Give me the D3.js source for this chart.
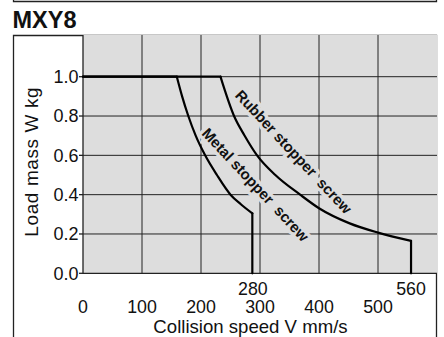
<!DOCTYPE html>
<html lang="en">
<head>
  <meta charset="utf-8">
  <title>MXY8</title>
  <style>
    body { margin: 0; background: #fff; }
    svg text { font-family: "Liberation Sans", Arial, Helvetica, sans-serif; fill: #111; }
  </style>
</head>
<body>
  <div id="chart-area"></div>

  <script src="https://cdnjs.cloudflare.com/ajax/libs/d3/7.8.5/d3.min.js"></script>
  <script>
    // axis ticks
    var speedTicks = [0, 100, 200, 300, 400, 500];
    var massTicks = [0, 0.2, 0.4, 0.6, 0.8, 1.0];
    var limitSpeeds = [288, 556];
    var limitLabels = ["280", "560"];

    // metal stopper screw
    var metalSpeed = [159, 168, 178.5, 191, 207, 227, 250, 268, 287];
    var metalMass  = [1.0, 0.9, 0.8, 0.7, 0.6, 0.5, 0.4, 0.35, 0.305];

    // rubber stopper screw
    var rubberSpeed = [233, 256, 274, 295, 326, 368, 400, 452, 500, 556];
    var rubberMass  = [1.0, 0.8, 0.7, 0.6, 0.5, 0.4, 0.331, 0.254, 0.207, 0.165];

    // curve labels: text and where its baseline starts (speed, mass)
    var labelTexts = ["Rubber stopper  screw", "Metal stopper  screw"];
    var labelSpeed = [256.4, 200];
    var labelMass  = [0.902, 0.709];

    var svgWidth = 444;
    var svgHeight = 337;

    var plot = { left: 83, right: 437, top: 35, bottom: 273.3 };

    var svg = d3.select("#chart-area")
                .append("svg")
                .attr("width", svgWidth)
                .attr("height", svgHeight);

    var x = d3.scaleLinear()
              .domain([0, 600])
              .range([plot.left, plot.right]);

    var y = d3.scaleLinear()
              .domain([0, 1])
              .range([plot.bottom, 76.7]);

    // bottom edge of the box above
    svg.append("path")
       .attr("d", "M13.5,0 V1.5 H436.5 V0")
       .attr("fill", "none")
       .attr("stroke", "#222")
       .attr("stroke-width", 1.3);

    // title
    svg.append("text")
       .attr("x", 12.5)
       .attr("y", 28.4)
       .attr("font-size", 23.5)
       .attr("font-weight", "bold")
       .text("MXY8");

    // frame
    svg.append("path")
       .attr("d", "M13.5," + svgHeight + " V35.5 H436.5 V" + svgHeight)
       .attr("fill", "none")
       .attr("stroke", "#222")
       .attr("stroke-width", 1.3);

    // plot background
    svg.append("rect")
       .attr("x", plot.left)
       .attr("y", plot.top)
       .attr("width", plot.right - plot.left)
       .attr("height", plot.bottom - plot.top)
       .attr("fill", "#dddddd");

    // grid
    var grid = svg.append("g")
                  .attr("stroke", "#222")
                  .attr("stroke-width", 1);

    grid.selectAll(".vgrid")
        .data(speedTicks.slice(1))
        .enter()
        .append("line")
        .attr("x1", (d) => x(d))
        .attr("x2", (d) => x(d))
        .attr("y1", plot.top)
        .attr("y2", plot.bottom);

    grid.selectAll(".hgrid")
        .data(massTicks.slice(1))
        .enter()
        .append("line")
        .attr("x1", plot.left)
        .attr("x2", plot.right)
        .attr("y1", (d) => y(d))
        .attr("y2", (d) => y(d));

    // axes lines
    svg.append("path")
       .attr("d", "M" + plot.left + "," + plot.top + " V" + plot.bottom + " H" + plot.right)
       .attr("fill", "none")
       .attr("stroke", "#222")
       .attr("stroke-width", 1.3);

    // y ticks and labels
    svg.selectAll(".ytick")
       .data(massTicks)
       .enter()
       .append("line")
       .attr("x1", plot.left - 4)
       .attr("x2", plot.left)
       .attr("y1", (d) => y(d))
       .attr("y2", (d) => y(d))
       .attr("stroke", "#222")
       .attr("stroke-width", 1.3);

    svg.selectAll(".ylabel")
       .data(massTicks)
       .enter()
       .append("text")
       .attr("x", 78.5)
       .attr("y", (d) => y(d) + 6.3)
       .attr("text-anchor", "end")
       .attr("font-size", 18)
       .text((d) => d.toFixed(1));

    // x labels
    svg.selectAll(".xlabel")
       .data(speedTicks)
       .enter()
       .append("text")
       .attr("x", (d) => x(d))
       .attr("y", 312.8)
       .attr("text-anchor", "middle")
       .attr("font-size", 17.8)
       .text((d) => d);

    svg.selectAll(".limitlabel")
       .data(limitSpeeds)
       .enter()
       .append("text")
       .attr("x", (d) => x(d))
       .attr("y", 295)
       .attr("text-anchor", "middle")
       .attr("font-size", 17.8)
       .text((d, i) => limitLabels[i]);

    // axis titles
    svg.append("text")
       .attr("x", 250.5)
       .attr("y", 332.6)
       .attr("text-anchor", "middle")
       .attr("font-size", 18.6)
       .text("Collision speed V mm/s");

    svg.append("text")
       .attr("transform", "translate(37.5,161.7) rotate(-90)")
       .attr("text-anchor", "middle")
       .attr("font-size", 19)
       .attr("letter-spacing", 0.6)
       .text("Load mass W kg");

    // curve labels, drawn under the curves so the halo only breaks the grid
    svg.selectAll(".curvelabel")
       .data(labelTexts)
       .enter()
       .append("text")
       .attr("transform", (d, i) => "translate(" + x(labelSpeed[i]) + "," + y(labelMass[i]) + ") rotate(47)")
       .attr("font-size", 15)
       .attr("font-weight", "bold")
       .attr("stroke", "#dddddd")
       .attr("stroke-width", 7)
       .attr("paint-order", "stroke")
       .style("white-space", "pre")
       .text((d) => d);

    // curves
    var curve = d3.line()
                  .x((d) => x(d[0]))
                  .y((d) => y(d[1]))
                  .curve(d3.curveMonotoneX);
    var straight = d3.line()
                     .x((d) => x(d[0]))
                     .y((d) => y(d[1]));

    function drawLimit(speeds, masses) {
      var pts = speeds.map((s, i) => [s, masses[i]]);
      var first = pts[0];
      var last = pts[pts.length - 1];
      var g = svg.append("g")
                 .attr("fill", "none")
                 .attr("stroke", "#000")
                 .attr("stroke-width", 2.2)
                 .attr("stroke-linecap", "round")
                 .attr("stroke-linejoin", "round");
      g.append("path").attr("d", straight([[0, first[1]], first]));
      g.append("path").attr("d", curve(pts));
      g.append("path").attr("d", straight([last, [last[0], 0]]));
    }

    drawLimit(metalSpeed, metalMass);
    drawLimit(rubberSpeed, rubberMass);
  </script>
</body>
</html>
